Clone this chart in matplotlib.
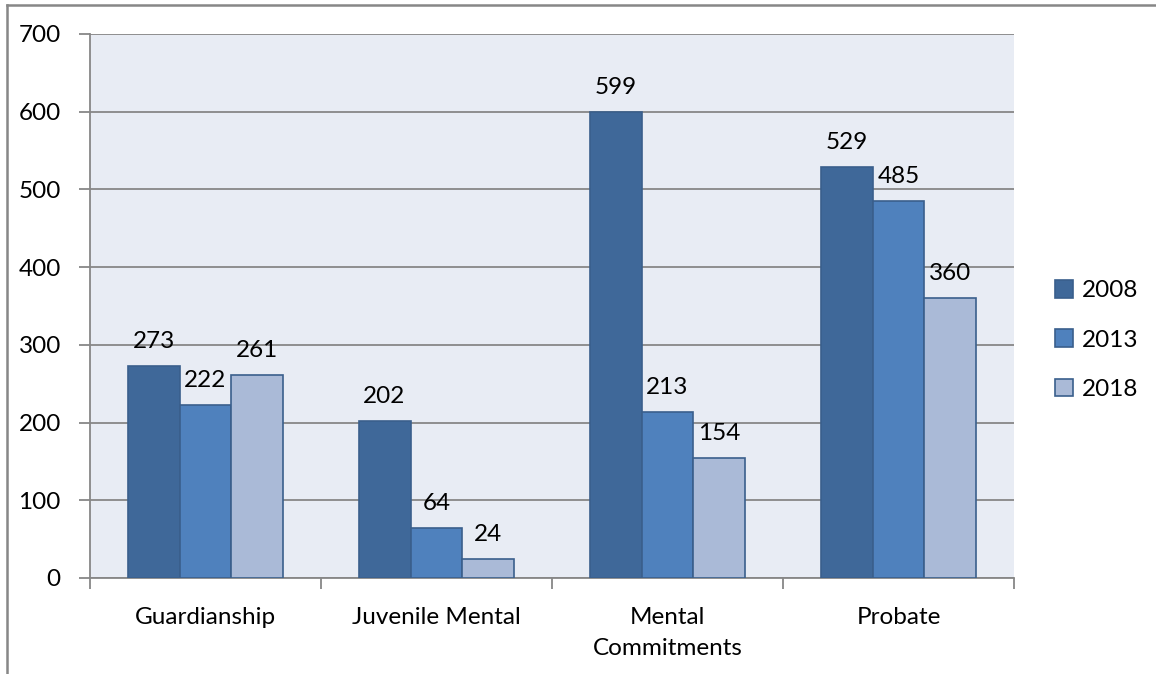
import numpy as np
import matplotlib.pyplot as plt
from matplotlib.lines import Line2D
from matplotlib.patches import Patch

# Case counts by category and year
categories = ['Guardianship', 'Juvenile Mental', 'Mental\nCommitments', 'Probate']
years = ['2008', '2013', '2018']
cases_2008 = [273, 202, 599, 529]
cases_2013 = [222, 64, 213, 485]
cases_2018 = [261, 24, 154, 360]

series = [cases_2008, cases_2013, cases_2018]
colors = ['#3F6899', '#4F81BD', '#AABAD7']
edge = '#3A5F8C'

plt.rcParams['font.family'] = ['Lato', 'DejaVu Sans']
fs = 17.5

fig = plt.figure(figsize=(11.56, 6.74), dpi=100)
ax = fig.add_axes([90 / 1156, 1 - 578 / 674, 924 / 1156, 544 / 674])
ax.set_facecolor('#E8ECF4')

x = np.arange(len(categories))
w = 0.225
for i, vals in enumerate(series):
    pos = x + (i - 1) * w
    ax.bar(pos, vals, width=w, color=colors[i], edgecolor=edge, linewidth=1.2, zorder=3)
    for px, v in zip(pos, vals):
        ax.annotate(str(v), (px, v), xytext=(0, 14), textcoords='offset pixels',
                    ha='center', va='bottom', fontsize=fs, zorder=4)

ax.set_xlim(-0.5, 3.5)
ax.set_ylim(0, 700)
ax.set_yticks(range(0, 701, 100))
ax.yaxis.grid(True, color='#878787', linewidth=1.3, zorder=0)
ax.set_axisbelow(True)

ax.set_xticks(x)
ax.set_xticklabels(categories, fontsize=fs, linespacing=1.55)
ax.set_xticks(np.arange(-0.5, 4, 1), minor=True)
ax.tick_params(axis='x', which='major', length=0, pad=21)
ax.tick_params(axis='x', which='minor', length=8, color='#878787', width=1.3)
ax.tick_params(axis='y', length=8, color='#878787', width=1.3, pad=13, labelsize=fs)

for s in ['top', 'right']:
    ax.spines[s].set_visible(False)
for s in ['left', 'bottom']:
    ax.spines[s].set_color('#878787')
    ax.spines[s].set_linewidth(1.3)

handles = [Patch(facecolor=c, edgecolor=edge, linewidth=1.2) for c in colors]
fig.legend(handles, years, loc='center left', bbox_to_anchor=(1033 / 1156, 1 - 340 / 674),
           frameon=False, fontsize=fs, handlelength=0.75, handleheight=0.75,
           handletextpad=0.35, labelspacing=1.15)

# outer chart frame (top and left edges visible)
fig.add_artist(Line2D([7 / 1156, 7 / 1156], [0, 1 - 5 / 674], transform=fig.transFigure,
                      color='#878787', linewidth=1.8))
fig.add_artist(Line2D([7 / 1156, 1], [1 - 5 / 674, 1 - 5 / 674], transform=fig.transFigure,
                      color='#878787', linewidth=1.8))

fig.savefig('out.png', dpi=100)
